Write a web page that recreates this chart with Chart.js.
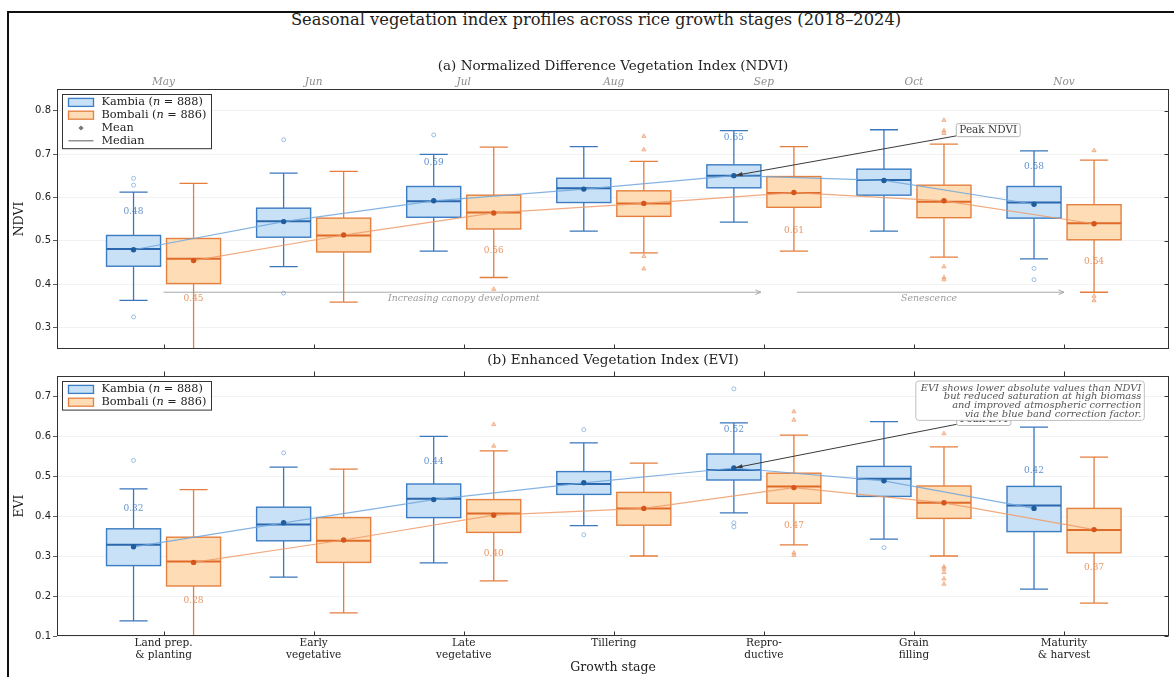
<!DOCTYPE html>
<html>
<head>
<meta charset="utf-8">
<script src="https://cdn.jsdelivr.net/npm/chart.js@4.4.1/dist/chart.umd.min.js"></script>
<style>
  html, body { margin: 0; padding: 0; background: #fff; width: 1174px; height: 677px; overflow: hidden; }
  #frame { position: absolute; left: 7px; top: 11px; width: 1220px; height: 720px; border: 2px solid #111; box-sizing: border-box; }
  #title { position: absolute; left: 0; top: 11px; width: 1192px; line-height: 18px; text-align: center;
           font-family: "DejaVu Serif", serif; font-size: 16.3px; color: #222; }
  canvas { position: absolute; left: 0; }
  #ndviCanvas { top: 40px; }
  #eviCanvas { top: 345px; }
</style>
</head>
<body>
<div id="frame"></div>
<div id="title">Seasonal vegetation index profiles across rice growth stages (2018–2024)</div>
<canvas id="ndviCanvas" width="1174" height="320"></canvas>
<canvas id="eviCanvas" width="1174" height="332"></canvas>
<script>
// ---- categories and tick labels ----
const stages = [['Land prep.', '& planting'], ['Early', 'vegetative'], ['Late', 'vegetative'], 'Tillering',
                ['Repro-', 'ductive'], ['Grain', 'filling'], ['Maturity', '& harvest']];
const months = ['May', 'Jun', 'Jul', 'Aug', 'Sep', 'Oct', 'Nov'];
const ndviTicks = [0.3, 0.4, 0.5, 0.6, 0.7, 0.8];
const eviTicks = [0.1, 0.2, 0.3, 0.4, 0.5, 0.6, 0.7];
const labelledStages = [0, 2, 4, 6];

// ---- NDVI, Kambia (n = 888) ----
const ndviKambiaLow  = [0.362, 0.440, 0.476, 0.522, 0.543, 0.522, 0.458];
const ndviKambiaQ1   = [0.441, 0.508, 0.554, 0.588, 0.622, 0.605, 0.552];
const ndviKambiaMed  = [0.481, 0.545, 0.591, 0.621, 0.650, 0.640, 0.588];
const ndviKambiaQ3   = [0.512, 0.575, 0.625, 0.644, 0.675, 0.665, 0.625];
const ndviKambiaHigh = [0.612, 0.656, 0.699, 0.717, 0.754, 0.756, 0.707];
const ndviKambiaMean = [0.479, 0.544, 0.592, 0.619, 0.650, 0.639, 0.584];
const ndviKambiaOut  = [[0.644, 0.628, 0.324], [0.733, 0.379], [0.744], [], [], [], [0.436, 0.410]];

// ---- NDVI, Bombali (n = 886) ----
const ndviBombaliLow  = [0.230, 0.358, 0.415, 0.472, 0.476, 0.462, 0.381];
const ndviBombaliQ1   = [0.401, 0.474, 0.527, 0.556, 0.577, 0.553, 0.502];
const ndviBombaliMed  = [0.458, 0.512, 0.565, 0.586, 0.610, 0.590, 0.540];
const ndviBombaliQ3   = [0.505, 0.552, 0.605, 0.615, 0.648, 0.628, 0.583];
const ndviBombaliHigh = [0.632, 0.660, 0.716, 0.683, 0.717, 0.723, 0.686];
const ndviBombaliMean = [0.454, 0.513, 0.564, 0.586, 0.611, 0.592, 0.539];
const ndviBombaliOut  = [[], [], [0.388], [0.741, 0.710, 0.464, 0.435], [],
                         [0.778, 0.754, 0.748, 0.440, 0.415, 0.410], [0.708, 0.372, 0.362]];

// ---- EVI, Kambia ----
const eviKambiaLow  = [0.138, 0.247, 0.283, 0.376, 0.408, 0.342, 0.217];
const eviKambiaQ1   = [0.276, 0.338, 0.396, 0.454, 0.490, 0.449, 0.361];
const eviKambiaMed  = [0.328, 0.379, 0.443, 0.480, 0.515, 0.493, 0.426];
const eviKambiaQ3   = [0.368, 0.422, 0.480, 0.511, 0.555, 0.524, 0.474];
const eviKambiaHigh = [0.468, 0.522, 0.599, 0.583, 0.633, 0.636, 0.622];
const eviKambiaMean = [0.323, 0.383, 0.441, 0.483, 0.520, 0.488, 0.419];
const eviKambiaOut  = [[0.539], [0.558], [], [0.616, 0.353], [0.718, 0.383, 0.373], [0.321], []];

// ---- EVI, Bombali ----
const eviBombaliLow  = [0.090, 0.158, 0.238, 0.300, 0.328, 0.300, 0.182];
const eviBombaliQ1   = [0.225, 0.284, 0.359, 0.377, 0.432, 0.394, 0.308];
const eviBombaliMed  = [0.286, 0.338, 0.406, 0.419, 0.474, 0.433, 0.365];
const eviBombaliQ3   = [0.347, 0.396, 0.441, 0.459, 0.507, 0.475, 0.419];
const eviBombaliHigh = [0.466, 0.517, 0.563, 0.532, 0.602, 0.573, 0.547];
const eviBombaliMean = [0.284, 0.340, 0.402, 0.419, 0.471, 0.433, 0.366];
const eviBombaliOut  = [[], [], [0.629, 0.575], [], [0.661, 0.640, 0.308, 0.302],
                        [0.606, 0.273, 0.268, 0.259, 0.243, 0.230], []];

// ---- annotation text ----
const phaseArrows = [
  { from: 0.0, to: 3.98, at: 2.0, text: 'Increasing canopy development' },
  { from: 4.22, to: 6.0, at: 5.1, text: 'Senescence' }
];
const phaseArrowY = 0.381, phaseTextY = 0.367;
const eviNote = ['EVI shows lower absolute values than NDVI', 'but reduced saturation at high biomass',
                 'and improved atmospheric correction', 'via the blue band correction factor.'];

// ---- styling ----
const SERIF = '"DejaVu Serif", serif';
const SANS = '"DejaVu Sans", sans-serif';
const BOX_WIDTH = 0.36;
const GROUP_OFFSET = 0.2;
const X_MIN = -0.71, X_MAX = 6.70;
const LEGEND_FONT = 11.3;

const kambiaStyle = { name: 'Kambia', n: 888, offset: -GROUP_OFFSET, labelShift: -38,
  edge: '#3b7cc3', fill: '#c8e1f7', median: '#2a67ad', whisker: '#3a77bd', mean: '#1f5d9f',
  trend: 'rgba(112,166,220,0.85)', label: 'rgba(80,135,200,0.9)', outlier: 'rgba(110,160,215,0.75)', outlierStyle: 'circle' };
const bombaliStyle = { name: 'Bombali', n: 886, offset: GROUP_OFFSET, labelShift: 38,
  edge: '#e5803f', fill: '#fddcb6', median: '#e06a28', whisker: '#e57d3d', mean: '#d5561c',
  trend: 'rgba(238,155,105,0.85)', label: 'rgba(228,140,85,0.9)', outlier: 'rgba(238,150,100,0.75)', outlierStyle: 'triangle' };

function group(st, low, q1, med, q3, high, mean, out) {
  return Object.assign({}, st, { low, q1, med, q3, high, mean, out, meanColor: st.mean });
}

// ---- drawing helpers ----
function drawBoxes(ctx, x, y, g) {
  for (let i = 0; i < g.med.length; i++) {
    const c = x.getPixelForValue(i + g.offset);
    const half = x.getPixelForValue(i + g.offset + BOX_WIDTH / 2) - c;
    const cap = half * 0.52;
    const pLo = y.getPixelForValue(g.low[i]), pQ1 = y.getPixelForValue(g.q1[i]);
    const pMed = y.getPixelForValue(g.med[i]), pQ3 = y.getPixelForValue(g.q3[i]);
    const pHi = y.getPixelForValue(g.high[i]);
    ctx.strokeStyle = g.whisker; ctx.lineWidth = 1.3;
    ctx.beginPath();
    ctx.moveTo(c, pQ1); ctx.lineTo(c, pLo);
    ctx.moveTo(c - cap, pLo); ctx.lineTo(c + cap, pLo);
    ctx.moveTo(c, pQ3); ctx.lineTo(c, pHi);
    ctx.moveTo(c - cap, pHi); ctx.lineTo(c + cap, pHi);
    ctx.stroke();
    ctx.fillStyle = g.fill;
    ctx.fillRect(c - half, pQ3, 2 * half, pQ1 - pQ3);
    ctx.strokeStyle = g.edge; ctx.lineWidth = 1.4;
    ctx.strokeRect(c - half, pQ3, 2 * half, pQ1 - pQ3);
    ctx.strokeStyle = g.median; ctx.lineWidth = 2;
    ctx.beginPath(); ctx.moveTo(c - half, pMed); ctx.lineTo(c + half, pMed); ctx.stroke();
  }
}

function drawValueLabels(ctx, x, y, g) {
  ctx.font = '9px ' + SERIF;
  ctx.fillStyle = g.label;
  ctx.textAlign = 'center'; ctx.textBaseline = 'middle';
  labelledStages.forEach(i => {
    const px = x.getPixelForValue(i + g.offset);
    const py = y.getPixelForValue(g.mean[i]) + g.labelShift;
    ctx.fillText(g.mean[i].toFixed(2), px, py);
  });
}

function openArrow(ctx, x1, y1, x2, y2, color) {
  const ang = Math.atan2(y2 - y1, x2 - x1), L = 6;
  ctx.strokeStyle = color; ctx.lineWidth = 1;
  ctx.beginPath(); ctx.moveTo(x1, y1); ctx.lineTo(x2, y2);
  ctx.moveTo(x2 - L * Math.cos(ang - 0.4), y2 - L * Math.sin(ang - 0.4)); ctx.lineTo(x2, y2);
  ctx.lineTo(x2 - L * Math.cos(ang + 0.4), y2 - L * Math.sin(ang + 0.4));
  ctx.stroke();
}

function drawPhases(ctx, x, y) {
  const py = y.getPixelForValue(phaseArrowY);
  const ty = y.getPixelForValue(phaseTextY);
  phaseArrows.forEach(p => {
    openArrow(ctx, x.getPixelForValue(p.from), py, x.getPixelForValue(p.to), py, '#a8a8a8');
    ctx.font = 'italic 9.4px ' + SERIF; ctx.fillStyle = '#9a9a9a';
    ctx.textAlign = 'center'; ctx.textBaseline = 'middle';
    ctx.fillText(p.text, x.getPixelForValue(p.at), ty);
  });
}

function roundRect(ctx, x, y, w, h, r) {
  ctx.beginPath();
  ctx.moveTo(x + r, y); ctx.lineTo(x + w - r, y); ctx.quadraticCurveTo(x + w, y, x + w, y + r);
  ctx.lineTo(x + w, y + h - r); ctx.quadraticCurveTo(x + w, y + h, x + w - r, y + h);
  ctx.lineTo(x + r, y + h); ctx.quadraticCurveTo(x, y + h, x, y + h - r);
  ctx.lineTo(x, y + r); ctx.quadraticCurveTo(x, y, x + r, y); ctx.closePath();
}

function drawCallout(ctx, x, y, c, g) {
  ctx.font = '10.5px ' + SERIF;
  const tw = ctx.measureText(c.text).width;
  const cx = x.getPixelForValue(c.x), cy = y.getPixelForValue(c.y);
  const bw = tw + 6, bh = 13;
  const bx = cx - bw / 2, by = cy - bh / 2;
  const tx = x.getPixelForValue(c.stage + g.offset), ty = y.getPixelForValue(g.mean[c.stage]);
  // leader starts where it leaves the text box
  const dx = tx - cx, dy = ty - cy;
  const t = Math.min(Math.abs((bw / 2) / dx), Math.abs((bh / 2) / dy));
  const sx = cx + dx * t, sy = cy + dy * t;
  const ang = Math.atan2(dy, dx);
  const ex = tx - 2 * Math.cos(ang), ey = ty - 2 * Math.sin(ang);
  ctx.strokeStyle = '#3a3a3a'; ctx.lineWidth = 1;
  ctx.beginPath(); ctx.moveTo(sx, sy); ctx.lineTo(ex, ey); ctx.stroke();
  ctx.fillStyle = '#3a3a3a';
  ctx.beginPath(); ctx.moveTo(ex, ey);
  ctx.lineTo(ex - 7 * Math.cos(ang - 0.3), ey - 7 * Math.sin(ang - 0.3));
  ctx.lineTo(ex - 7 * Math.cos(ang + 0.3), ey - 7 * Math.sin(ang + 0.3));
  ctx.closePath(); ctx.fill();
  roundRect(ctx, bx, by, bw, bh, 2);
  ctx.fillStyle = 'rgba(255,255,255,0.95)'; ctx.fill();
  ctx.strokeStyle = '#b5b5b5'; ctx.lineWidth = 1; ctx.stroke();
  ctx.fillStyle = '#3a3a3a'; ctx.textAlign = 'center'; ctx.textBaseline = 'middle';
  ctx.fillText(c.text, cx, cy + 0.5);
}

function drawNote(ctx, a, lines) {
  const right = a.right - 0.025 * (a.right - a.left);
  const top = a.top + 5;
  const lh = 8.6;
  ctx.font = 'italic 9.9px ' + SERIF;
  const w = Math.max(...lines.map(s => ctx.measureText(s).width));
  roundRect(ctx, right - w - 5, top, w + 8, lines.length * lh + 5, 3);
  ctx.fillStyle = 'rgba(255,255,255,0.95)'; ctx.fill();
  ctx.strokeStyle = '#c0c0c0'; ctx.lineWidth = 1; ctx.stroke();
  ctx.fillStyle = '#555'; ctx.textAlign = 'right'; ctx.textBaseline = 'middle';
  lines.forEach((s, k) => ctx.fillText(s, right, top + 3 + lh * k + lh / 2));
}

function richText(ctx, parts, x, y) {
  parts.forEach(([s, italic]) => {
    ctx.font = (italic ? 'italic ' : '') + LEGEND_FONT + 'px ' + SERIF;
    ctx.fillText(s, x, y);
    x += ctx.measureText(s).width;
  });
}

function drawLegend(ctx, a, groups, withStats) {
  const left = Math.round(a.left) + 5.5, top = Math.round(a.top) + 5.5;
  const rowH = 12.8, rows = groups.length + (withStats ? 2 : 0);
  const w = 149, h = rows * rowH + 3;
  ctx.fillStyle = 'rgba(255,255,255,0.92)'; ctx.fillRect(left, top, w, h);
  ctx.strokeStyle = '#333'; ctx.lineWidth = 1; ctx.strokeRect(left, top, w, h);
  ctx.textAlign = 'left'; ctx.textBaseline = 'middle';
  let cy = top + 1.5 + rowH / 2;
  groups.forEach(g => {
    ctx.fillStyle = g.fill; ctx.fillRect(left + 6, cy - 4, 25, 8);
    ctx.strokeStyle = g.edge; ctx.lineWidth = 1.3; ctx.strokeRect(left + 6, cy - 4, 25, 8);
    ctx.fillStyle = '#222';
    richText(ctx, [[g.name + ' (', false], ['n', true], [' = ' + g.n + ')', false]], left + 39, cy);
    cy += rowH;
  });
  if (withStats) {
    ctx.fillStyle = '#777';
    ctx.beginPath(); ctx.moveTo(left + 18.5, cy - 2.6); ctx.lineTo(left + 21.1, cy);
    ctx.lineTo(left + 18.5, cy + 2.6); ctx.lineTo(left + 15.9, cy); ctx.closePath(); ctx.fill();
    ctx.fillStyle = '#222'; richText(ctx, [['Mean', false]], left + 39, cy);
    cy += rowH;
    ctx.strokeStyle = '#777'; ctx.lineWidth = 1.2;
    ctx.beginPath(); ctx.moveTo(left + 6, cy); ctx.lineTo(left + 31, cy); ctx.stroke();
    ctx.fillStyle = '#222'; richText(ctx, [['Median', false]], left + 39, cy);
  }
}

function panelPlugin(p) {
  return {
    id: 'panelDecor',
    beforeDatasetsDraw(chart) {
      const { ctx, chartArea: a, scales: { x, y } } = chart;
      ctx.save();
      ctx.beginPath(); ctx.rect(a.left, a.top, a.right - a.left, a.bottom - a.top); ctx.clip();
      if (p.phases) drawPhases(ctx, x, y);
      p.groups.forEach(g => drawValueLabels(ctx, x, y, g));
      p.groups.forEach(g => drawBoxes(ctx, x, y, g));
      ctx.restore();
    },
    afterDatasetsDraw(chart) {
      const { ctx, chartArea: a, scales: { x, y } } = chart;
      ctx.save();
      drawCallout(ctx, x, y, p.callout, p.groups[0]);
      if (p.note) drawNote(ctx, a, p.note);
      drawLegend(ctx, a, p.groups, p.legendStats);
      ctx.restore();
    },
    afterDraw(chart) {
      const { ctx, chartArea: a, scales: { x, y } } = chart;
      ctx.save();
      const L = Math.round(a.left) + 0.5, R = Math.round(a.right) - 0.5;
      const T = Math.round(a.top) + 0.5, B = Math.round(a.bottom) - 0.5;
      ctx.strokeStyle = '#333'; ctx.lineWidth = 1;
      ctx.strokeRect(L, T, R - L, B - T);
      ctx.beginPath();
      stages.forEach((_, i) => {
        const px = Math.round(x.getPixelForValue(i)) + 0.5;
        ctx.moveTo(px, B); ctx.lineTo(px, B - 4);
        if (p.topTicks) { ctx.moveTo(px, T); ctx.lineTo(px, T - 5); }
      });
      p.yTicks.forEach(v => {
        const py = Math.round(y.getPixelForValue(v)) + 0.5;
        ctx.moveTo(R, py); ctx.lineTo(R - 4, py);
      });
      ctx.stroke();
      ctx.font = '13.5px ' + SERIF; ctx.fillStyle = '#222';
      ctx.textAlign = 'center'; ctx.textBaseline = 'middle';
      ctx.fillText(p.subtitle, (a.left + a.right) / 2, a.top - p.subtitleGap);
      ctx.restore();
    }
  };
}

function datasetsFor(g) {
  const pts = g.mean.map((m, i) => ({ x: i + g.offset, y: m }));
  const outliers = [];
  g.out.forEach((vals, i) => vals.forEach(v => outliers.push({ x: i + g.offset, y: v })));
  return [
    { label: g.name + ' mean trend', data: pts, showLine: true, borderColor: g.trend, borderWidth: 1.2,
      pointRadius: 0, order: 2 },
    { label: g.name + ' mean', data: pts, pointRadius: 2.7, pointBackgroundColor: g.meanColor,
      pointBorderWidth: 0, order: 1 },
    { label: g.name + ' outliers', data: outliers, pointStyle: g.outlierStyle,
      pointRadius: g.outlierStyle === 'circle' ? 2 : 2.4, pointBorderWidth: 0.9,
      pointBorderColor: g.outlier,
      pointBackgroundColor: g.outlierStyle === 'circle' ? 'rgba(255,255,255,0)' : 'rgba(240,160,115,0.45)', order: 3 }
  ];
}

function makePanel(canvas, p) {
  const ds = [];
  p.groups.forEach(g => ds.push(...datasetsFor(g)));
  const scales = {
    x: {
      type: 'linear', position: 'bottom', min: X_MIN, max: X_MAX,
      afterBuildTicks: s => { s.ticks = stages.map((_, i) => ({ value: i })); },
      afterFit: s => { s.height = p.bottomHeight; },
      grid: { display: false, drawTicks: false },
      border: { display: false },
      ticks: {
        display: p.showStages, autoSkip: false, maxRotation: 0, padding: 1, color: '#222',
        font: { family: SERIF, size: 10.5, lineHeight: 1.15 },
        callback: (v, i) => stages[i]
      },
      title: {
        display: p.showStages, text: 'Growth stage', color: '#222',
        font: { family: SERIF, size: 12.5 }, padding: { top: 0, bottom: 2 }
      }
    },
    y: {
      type: 'linear', position: 'left', min: p.yMin, max: p.yMax,
      afterBuildTicks: s => { s.ticks = p.yTicks.map(v => ({ value: v })); },
      afterFit: s => { s.width = 49; },
      grid: { color: '#efefef', lineWidth: 0.8, tickColor: '#333', tickLength: 4, drawTicks: true },
      border: { display: false },
      ticks: { padding: 2, color: '#222', font: { family: SANS, size: 10 }, callback: v => v.toFixed(1) },
      title: { display: true, text: p.yTitle, color: '#222', font: { family: SERIF, size: 12.5 },
               padding: { top: 4, bottom: 0 } }
    }
  };
  if (p.months) {
    scales.xTop = {
      type: 'linear', position: 'top', axis: 'x', min: X_MIN, max: X_MAX,
      afterBuildTicks: s => { s.ticks = months.map((_, i) => ({ value: i })); },
      afterFit: s => { s.height = p.topHeight; },
      grid: { display: false, drawTicks: false },
      border: { display: false },
      ticks: { autoSkip: false, maxRotation: 0, padding: 0, color: '#8c8c8c',
               font: { family: SERIF, size: 10.5, style: 'italic' }, callback: (v, i) => months[i] }
    };
  }
  return new Chart(canvas, {
    type: 'scatter',
    data: { datasets: ds },
    options: {
      responsive: false, animation: false, devicePixelRatio: 1,
      layout: { padding: p.padding },
      plugins: { legend: { display: false }, tooltip: { enabled: false } },
      scales
    },
    plugins: [panelPlugin(p)]
  });
}

const ndviGroups = [
  group(kambiaStyle, ndviKambiaLow, ndviKambiaQ1, ndviKambiaMed, ndviKambiaQ3, ndviKambiaHigh, ndviKambiaMean, ndviKambiaOut),
  group(bombaliStyle, ndviBombaliLow, ndviBombaliQ1, ndviBombaliMed, ndviBombaliQ3, ndviBombaliHigh, ndviBombaliMean, ndviBombaliOut)
];
const eviGroups = [
  group(kambiaStyle, eviKambiaLow, eviKambiaQ1, eviKambiaMed, eviKambiaQ3, eviKambiaHigh, eviKambiaMean, eviKambiaOut),
  group(bombaliStyle, eviBombaliLow, eviBombaliQ1, eviBombaliMed, eviBombaliQ3, eviBombaliHigh, eviBombaliMean, eviBombaliOut)
];

makePanel(document.getElementById('ndviCanvas'), {
  groups: ndviGroups, yMin: 0.25, yMax: 0.85, yTicks: ndviTicks, yTitle: 'NDVI',
  subtitle: '(a) Normalized Difference Vegetation Index (NDVI)', subtitleGap: 23,
  months: true, topHeight: 29, bottomHeight: 11, showStages: false, topTicks: false,
  padding: { left: 8, right: 3, top: 20, bottom: 0 },
  phases: true, legendStats: true,
  callout: { text: 'Peak NDVI', x: 5.495, y: 0.755, stage: 4 }
});

makePanel(document.getElementById('eviCanvas'), {
  groups: eviGroups, yMin: 0.1, yMax: 0.75, yTicks: eviTicks, yTitle: 'EVI',
  subtitle: '(b) Enhanced Vegetation Index (EVI)', subtitleGap: 15.5,
  months: false, bottomHeight: 41, showStages: true, topTicks: true,
  padding: { left: 8, right: 3, top: 31, bottom: 0 },
  phases: false, legendStats: false, note: eviNote,
  callout: { text: 'Peak EVI', x: 5.465, y: 0.6425, stage: 4 }
});
</script>
</body>
</html>
